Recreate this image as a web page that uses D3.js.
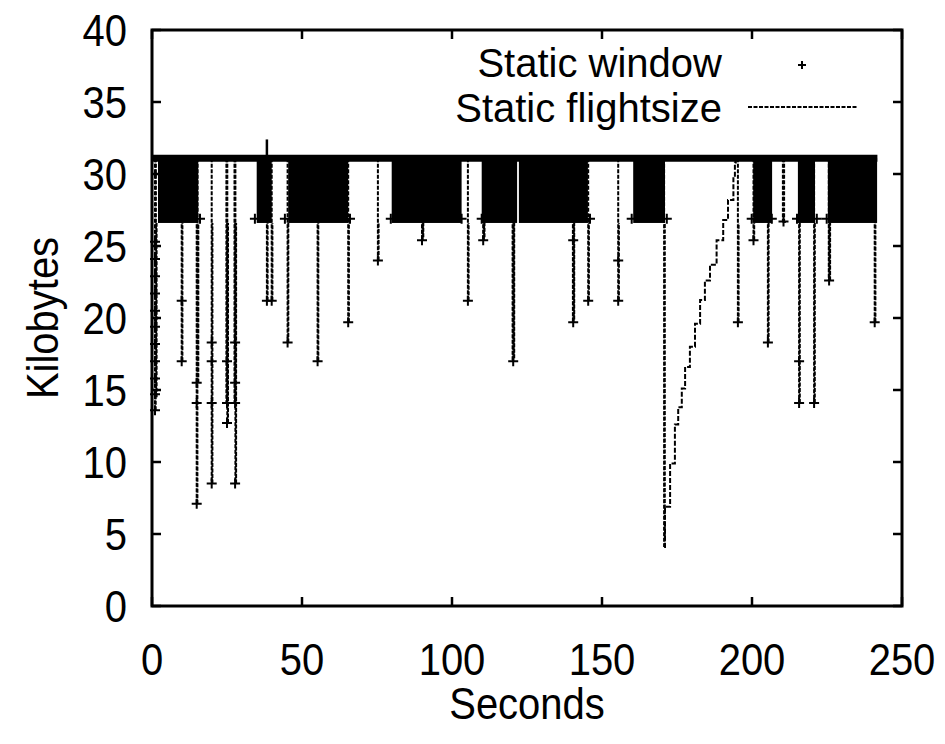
<!DOCTYPE html>
<html>
<head>
<meta charset="utf-8">
<script src="https://d3js.org/d3.v7.min.js"></script>
<style>
  body { margin: 0; background: #fff; }
  text { font-family: "Liberation Sans", Arial, sans-serif; fill: #000; }
</style>
</head>
<body>
<script>
// axis ticks
var xTicks = [0, 50, 100, 150, 200, 250];
var yTicks = [0, 5, 10, 15, 20, 25, 30, 35, 40];

// window sits at 31.1 KB for the whole run
var windowLevel = 31.1;
var windowRun = [0.3, 241.8];
// the flightsize saw-tooths between these two levels inside the busy blocks
var sawHigh = 31.1;
var sawLow = 26.6;
// busy periods [start, end] in seconds
var busyBlocks = [[2, 15.4], [34.9, 39.9], [45.4, 65.4], [79.9, 103.2], [109.9, 121.7],
                  [122.3, 145.3], [160.4, 171], [200.4, 206.7], [215.3, 221], [225.3, 241.7]];

// flightsize drops: [time, lowest value]
var flightDrops = [[1.0, 13.6], [1.3, 14.5], [9.9, 17.0], [14.9, 7.1], [15.2, 15.5], [19.9, 8.5], [24.8, 14.1],
                   [25.1, 12.7], [27.5, 14.1], [27.8, 8.5], [38.3, 21.2], [39.9, 21.2], [45.2, 18.3],
                   [55.2, 17.0], [65.4, 19.7], [75.3, 24.0], [90.0, 25.4], [90.2, 25.6], [105.3, 21.2],
                   [110.4, 25.4], [110.6, 25.6], [120.2, 17.0], [120.5, 17.2], [140.3, 19.7], [140.5, 19.9],
                   [145.4, 21.2], [155.4, 21.2], [170.7, 4.1], [195.3, 19.7], [200.5, 25.4], [205.3, 18.3],
                   [210.3, 26.7], [210.7, 26.7], [215.7, 14.1], [220.7, 14.1], [225.6, 22.6], [225.8, 22.6],
                   [240.9, 19.7]];

// recovery after the timeout at 171 s: [time, flightsize]
var recoveryTime = [170.7, 171, 172.7, 174.3, 175.4, 176.6, 177.7, 179.3, 181, 182.7,
                    184.3, 186, 188.2, 190.4, 192, 193.8, 194.3, 194.6];
var recoveryKB = [4.1, 6.9, 9.9, 12.6, 13.8, 15.1, 16.6, 18.0, 19.6, 21.25,
                  22.6, 23.7, 25.4, 26.8, 28.2, 29.8, 30.8, 31.1];

// window samples off the 31.1 level: [time, value]
var windowPoints = [[1.0, 13.6], [1.0, 14.7], [1.0, 15.8], [1.0, 17.0], [1.0, 18.2], [1.0, 19.4], [1.0, 20.5],
                    [1.0, 21.7], [1.0, 22.9], [1.0, 24.1], [1.0, 25.3],
                    [9.9, 21.2], [9.9, 17.0], [14.9, 15.5], [14.9, 14.1], [14.9, 7.1],
                    [19.9, 18.3], [19.9, 17.0], [19.9, 14.1], [19.9, 8.5],
                    [25.0, 17.0], [25.0, 14.1], [25.0, 12.7],
                    [27.7, 18.3], [27.7, 15.5], [27.7, 14.1], [27.7, 8.5],
                    [38.3, 21.2], [39.9, 21.2], [45.2, 18.3], [55.2, 17.0], [65.4, 19.7], [75.3, 24.0],
                    [90.0, 25.4], [105.3, 21.2], [110.4, 25.4], [120.4, 17.0], [140.4, 25.4], [140.4, 19.7],
                    [145.4, 21.2], [155.4, 24.0], [155.4, 21.2], [195.3, 19.7], [200.5, 25.4], [205.3, 18.3],
                    [210.5, 26.7], [215.7, 17.0], [215.7, 14.1], [220.7, 14.1], [225.7, 22.6], [240.9, 19.7],
                    [16.0, 26.9], [34.3, 26.9], [44.3, 26.9], [66.0, 26.9], [79.6, 26.9], [103.2, 26.9],
                    [109.9, 26.9], [146.0, 26.9], [159.9, 26.9], [171.6, 26.9], [199.9, 26.9], [206.6, 26.9],
                    [215.0, 26.9], [221.6, 26.9], [224.9, 26.9]];
// window spike above the usual level
var windowSpike = [38.3, 32.4];

var width = 945;
var height = 744;
var margin = { top: 30, right: 43, bottom: 138, left: 152 };

var svg = d3.select("body").append("svg")
  .attr("width", width)
  .attr("height", height);

var x = d3.scaleLinear().domain([0, 250]).range([margin.left, width - margin.right]);
var y = d3.scaleLinear().domain([0, 40]).range([height - margin.bottom, margin.top]);

var plot = svg.append("g");

// busy blocks
plot.selectAll("rect.block")
  .data(busyBlocks)
  .join("rect")
  .attr("class", "block")
  .attr("x", function(d) { return x(d[0]); })
  .attr("width", function(d) { return x(d[1]) - x(d[0]); })
  .attr("y", y(sawHigh))
  .attr("height", y(sawLow) - y(sawHigh))
  .attr("fill", "#000");

// flightsize drops, down and back up
plot.selectAll("path.drop")
  .data(flightDrops)
  .join("path")
  .attr("class", "drop")
  .attr("d", function(d) {
    return "M" + x(d[0]) + "," + y(sawHigh) + "V" + y(d[1]) + "M" + (x(d[0]) + 0.7) + "," + y(d[1]) + "V" + y(sawLow);
  })
  .attr("fill", "none")
  .attr("stroke", "#000")
  .attr("stroke-width", 2)
  .attr("stroke-dasharray", "4,1.5");

// recovery ramp
var line = d3.line()
  .curve(d3.curveStepAfter)
  .x(function(d) { return x(d[0]); })
  .y(function(d) { return y(d[1]); });

plot.append("path")
  .datum(d3.zip(recoveryTime, recoveryKB))
  .attr("d", line)
  .attr("fill", "none")
  .attr("stroke", "#000")
  .attr("stroke-width", 2)
  .attr("stroke-dasharray", "5,2");

// window: dense plus marks along the top, drawn as a thick band
plot.append("line")
  .attr("x1", x(windowRun[0])).attr("x2", x(windowRun[1]))
  .attr("y1", y(windowLevel)).attr("y2", y(windowLevel))
  .attr("stroke", "#000")
  .attr("stroke-width", 7);

plot.append("line")
  .attr("x1", x(windowSpike[0])).attr("x2", x(windowSpike[0]))
  .attr("y1", y(windowLevel)).attr("y2", y(windowSpike[1]))
  .attr("stroke", "#000")
  .attr("stroke-width", 2.5);

function plus(sel, size) {
  sel.append("path")
    .attr("d", "M" + (-size) + ",0H" + size + "M0," + (-size) + "V" + size)
    .attr("stroke", "#000")
    .attr("stroke-width", 2)
    .attr("fill", "none");
}

plot.selectAll("g.win")
  .data(windowPoints)
  .join("g")
  .attr("class", "win")
  .attr("transform", function(d) { return "translate(" + x(d[0]) + "," + y(d[1]) + ")"; })
  .each(function() { plus(d3.select(this), 5); });

// frame and ticks (gnuplot style, inward and mirrored)
var tickLen = 9;
var x0 = x(0), x1 = x(250), y0 = y(0), y1 = y(40);

var axes = svg.append("g").attr("stroke", "#000").attr("stroke-width", 2.5);

axes.selectAll("line.xt")
  .data(xTicks)
  .join("line")
  .attr("x1", function(d) { return x(d); }).attr("x2", function(d) { return x(d); })
  .attr("y1", y0).attr("y2", y0 - tickLen);
axes.selectAll("line.xtt")
  .data(xTicks)
  .join("line")
  .attr("x1", function(d) { return x(d); }).attr("x2", function(d) { return x(d); })
  .attr("y1", y1).attr("y2", y1 + tickLen);
axes.selectAll("line.yt")
  .data(yTicks)
  .join("line")
  .attr("y1", function(d) { return y(d); }).attr("y2", function(d) { return y(d); })
  .attr("x1", x0).attr("x2", x0 + tickLen);
axes.selectAll("line.ytr")
  .data(yTicks)
  .join("line")
  .attr("y1", function(d) { return y(d); }).attr("y2", function(d) { return y(d); })
  .attr("x1", x1).attr("x2", x1 - tickLen);

svg.append("rect")
  .attr("x", x0).attr("y", y1)
  .attr("width", x1 - x0).attr("height", y0 - y1)
  .attr("fill", "none")
  .attr("stroke", "#000")
  .attr("stroke-width", 3);

// text: the original is a bit taller than Arial, so stretch it vertically
var fontSize = 40;
var stretch = 1.13;
function label(parent, px, py, str, anchor, rot, sy) {
  var g = parent.append("g")
    .attr("transform", "translate(" + px + "," + py + ")" + (rot ? " rotate(" + rot + ")" : "") + " scale(1," + (sy || stretch) + ")");
  return g.append("text")
    .attr("text-anchor", anchor)
    .style("font-size", fontSize + "px")
    .text(str);
}

xTicks.forEach(function(d) {
  label(svg, x(d), 675, d, "middle");
});
yTicks.forEach(function(d) {
  label(svg, 127, y(d) + 16, d, "end");
});

// axis titles
label(svg, (x0 + x1) / 2, 719, "Seconds", "middle");
label(svg, 58, (y0 + y1) / 2, "Kilobytes", "middle", -90);

// legend (two lines sit close together, keep them unstretched)
var legend = svg.append("g");
label(legend, 722, 77, "Static window", "end", 0, 1);
label(legend, 722, 122, "Static flightsize", "end", 0, 1);
legend.append("g")
  .attr("transform", "translate(802,65)")
  .each(function() { plus(d3.select(this), 4); });
legend.append("line")
  .attr("x1", 748).attr("x2", 858)
  .attr("y1", 107).attr("y2", 107)
  .attr("stroke", "#000")
  .attr("stroke-width", 2)
  .attr("stroke-dasharray", "4,1.5");
</script>
</body>
</html>
